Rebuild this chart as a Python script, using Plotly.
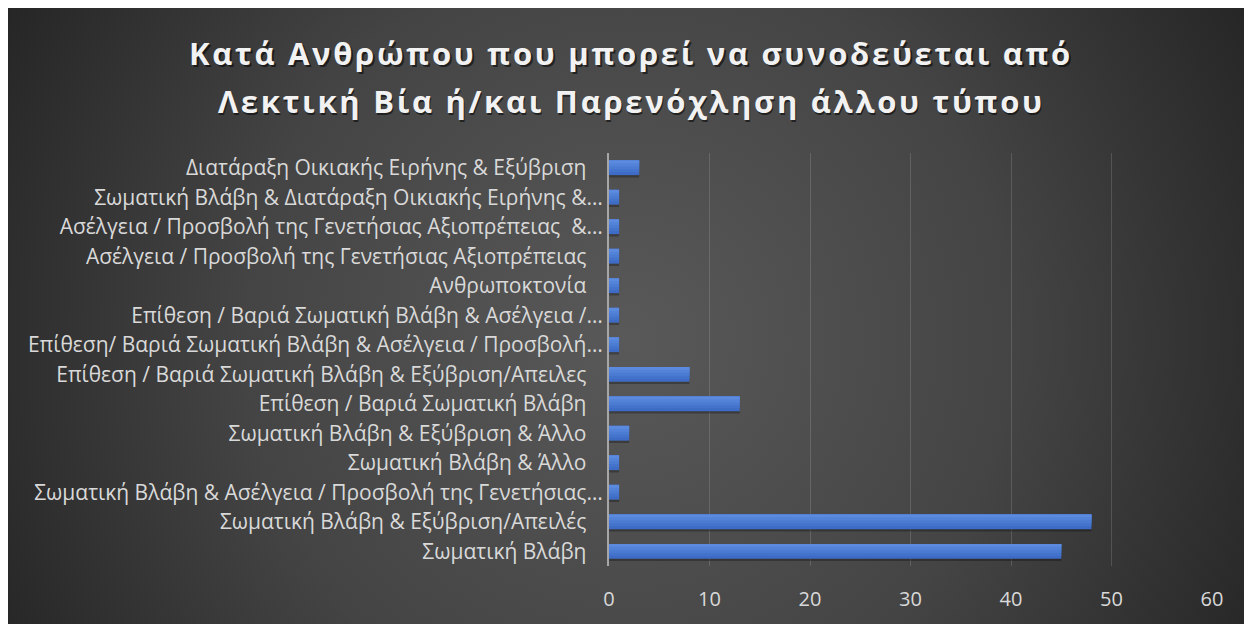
import base64
import plotly.graph_objects as go

# categories, top to bottom as in the chart
categories = [
    "Διατάραξη Οικιακής Ειρήνης & Εξύβριση ",
    "Σωματική Βλάβη & Διατάραξη Οικιακής Ειρήνης &…",
    "Ασέλγεια / Προσβολή της Γενετήσιας Αξιοπρέπειας  &…",
    "Ασέλγεια / Προσβολή της Γενετήσιας Αξιοπρέπειας ",
    "Ανθρωποκτονία ",
    "Επίθεση / Βαριά Σωματική Βλάβη & Ασέλγεια /…",
    "Επίθεση/ Βαριά Σωματική Βλάβη & Ασέλγεια / Προσβολή…",
    "Επίθεση / Βαριά Σωματική Βλάβη & Εξύβριση/Απειλες ",
    "Επίθεση / Βαριά Σωματική Βλάβη ",
    "Σωματική Βλάβη & Εξύβριση & Άλλο ",
    "Σωματική Βλάβη & Άλλο ",
    "Σωματική Βλάβη & Ασέλγεια / Προσβολή της Γενετήσιας…",
    "Σωματική Βλάβη & Εξύβριση/Απειλές ",
    "Σωματική Βλάβη ",
]
values = [3, 1, 1, 1, 1, 1, 1, 8, 13, 2, 1, 1, 48, 45]
x_ticks = [0, 10, 20, 30, 40, 50, 60]

title_lines = [
    "Κατά Ανθρώπου που μπορεί να συνοδεύεται από",
    "Λεκτική Βία ή/και Παρενόχληση άλλου τύπου",
]

# keep the trailing spaces visible in svg text
labels = [c.rstrip() + "\u00a0\u00a0\u00a0" if c.endswith(" ") else c for c in categories]
labels = [l.replace("  ", "\u00a0\u00a0") for l in labels]

W, H = 1244, 616
L, R, T, B = 601, 40, 145, 58
pw, ph = W - L - R, H - T - B

svg = f'''<svg xmlns="http://www.w3.org/2000/svg" width="{W}" height="{H}" viewBox="0 0 {W} {H}" preserveAspectRatio="none">
<defs><radialGradient id="g" gradientUnits="userSpaceOnUse" cx="620" cy="330" r="700">
<stop offset="0" stop-color="#595959"/><stop offset="0.55" stop-color="#444444"/><stop offset="1" stop-color="#262626"/>
</radialGradient></defs><rect width="{W}" height="{H}" fill="url(#g)"/></svg>'''
bg_src = "data:image/svg+xml;base64," + base64.b64encode(svg.encode()).decode()

font = "Open Sans"

fig = go.Figure()

# drop shadow under the bars
fig.add_trace(go.Bar(x=values, y=labels, orientation="h", width=0.09, offset=0.24,
                     marker=dict(color="rgba(0,0,0,0.28)", line=dict(width=0)), hoverinfo="skip"))

# bars as overlapping layers anchored at the top: dark full bar, lighter ones on top
shades = ["#3d6bc5", "#4473cc", "#4b7bd2", "#5383d8", "#5b8ade"]
for i, c in enumerate(shades):
    fig.add_trace(go.Bar(x=values, y=labels, orientation="h", width=0.5 - 0.1 * i, offset=-0.25,
                         marker=dict(color=c, line=dict(width=0)),
                         hoverinfo="x+y" if i == 0 else "skip"))

fig.add_layout_image(dict(
    source=bg_src, xref="paper", yref="paper",
    x=-L / pw, y=(ph + T) / ph, sizex=W / pw, sizey=H / ph,
    xanchor="left", yanchor="top", sizing="stretch", layer="below",
))

ys = [(ph + T - 45) / ph, (ph + T - 93) / ph]
for txt, yy in zip(title_lines, ys):
    # soft shadow then the text
    for col, dx, dy in [("rgba(0,0,0,0.55)", 1.5, -2), ("#f2f2f2", 0, 0)]:
        fig.add_annotation(text=f'<span style="letter-spacing:2.7px">{txt}</span>',
                           xref="paper", yref="paper", x=(W / 2 - L + 1) / pw, y=yy,
                           xanchor="center", yanchor="middle", xshift=dx, yshift=dy, showarrow=False,
                           font=dict(family=font, size=31, color=col, weight="bold"))

fig.update_layout(
    width=W, height=H,
    margin=dict(l=L, r=R, t=T, b=B, pad=0),
    paper_bgcolor="rgba(0,0,0,0)", plot_bgcolor="rgba(0,0,0,0)",
    showlegend=False,
    barmode="overlay",
)
fig.update_xaxes(
    range=[0, 60], tickvals=x_ticks, showgrid=True, gridcolor="rgba(255,255,255,0.14)", gridwidth=1,
    zeroline=False, showline=False, ticks="", ticklabelstandoff=19,
    tickfont=dict(family=font, size=20, color="#d9d9d9"),
)
fig.update_yaxes(
    autorange="reversed", showgrid=False, showline=True, linecolor="#a6a6a6", linewidth=2,
    ticks="", ticklabelstandoff=0,
    tickfont=dict(family=font, size=21, color="#d9d9d9"),
)

fig.write_html("out.html")
